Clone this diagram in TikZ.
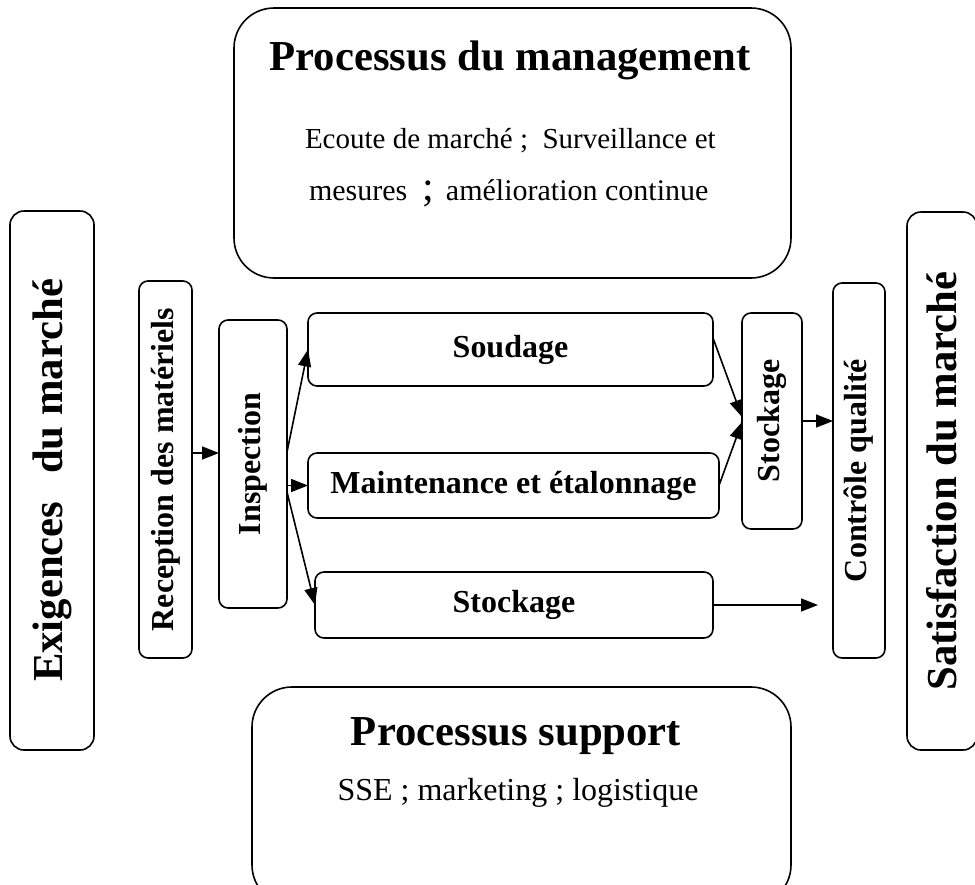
\documentclass[tikz,border=0pt]{standalone}
\usepackage{fontspec}
\setmainfont{Liberation Serif}
\usetikzlibrary{arrows.meta}
\begin{document}
\begin{tikzpicture}[x=1pt,y=-1pt,
  every node/.style={inner sep=0pt, outer sep=0pt},
  box/.style={draw, line width=1.6pt, rounded corners=9pt, font=\fontsize{32}{38}\selectfont\bfseries},
  tallbox/.style={draw, line width=1.6pt, rounded corners=14pt, font=\fontsize{42.7}{48}\selectfont\bfseries},
  bigbox/.style={draw, line width=1.6pt, rounded corners=40pt},
  titletext/.style={font=\fontsize{42.7}{48}\selectfont\bfseries, anchor=base},
  subtext/.style={font=\fontsize{29}{34}\selectfont, anchor=base west},
  supptext/.style={font=\fontsize{32}{38}\selectfont, anchor=base},
  arr/.style={line width=1.6pt, -{Triangle[length=17pt,width=13pt]}}
]
\useasboundingbox (0,0) rectangle (975,884);

% side boxes
\node[tallbox, minimum width=84pt, minimum height=539pt] (exig) at (52,480.5) {\rotatebox{90}{Exigences\hspace{0.65em}du marché}};
\node[tallbox, minimum width=70pt, minimum height=538pt] (satis) at (942,481) {\rotatebox{90}{Satisfaction du marché}};

% process boxes
\node[box, minimum width=53pt, minimum height=377pt] (rec) at (165.5,469.5) {\rotatebox{90}{Reception des matériels}};
\node[box, minimum width=68pt, minimum height=288pt] (insp) at (253,464) {\rotatebox{90}{Inspection}};
\node[box, minimum width=405pt, minimum height=73pt] (soud) at (510.5,349.5) {Soudage};
\node[box, minimum width=411pt, minimum height=65pt] (maint) at (513.5,485.5) {Maintenance et étalonnage};
\node[box, minimum width=398pt, minimum height=66pt] (stock) at (514,605) {Stockage};
\node[box, minimum width=60pt, minimum height=216pt] (stv) at (772,421) {\rotatebox{90}{Stockage}};
\node[box, minimum width=52pt, minimum height=375pt] (ctrl) at (859,470.5) {\rotatebox{90}{Contrôle qualité}};

% management box
\node[bigbox, minimum width=557pt, minimum height=270pt] (mgmt) at (512.5,143) {};
\node[titletext] (mgmtT) at (510,70) {Processus du management};
\node[subtext] (mgmtA) at (305,148) {Ecoute de marché ;\ \ Surveillance et};
\node[subtext] (mgmtB) at (309,200) {\fontsize{30}{34}\selectfont mesures\hspace{0.5em}{\fontsize{42}{42}\selectfont;}\hspace{0.4em}amélioration continue};

% support box
\node[bigbox, minimum width=539pt, minimum height=218pt] (supp) at (521.5,796) {};
\node[titletext] (suppT) at (516,745) {Processus support};
\node[supptext] (suppS) at (518,800) {SSE ; marketing ; logistique};

% connectors
\draw[arr] ([yshift=16.5pt]rec.east) -- ([yshift=11pt]insp.west);
\draw[arr] ([yshift=12pt]insp.east) -- (soud.west);
\draw[arr] (insp.east |- maint.west) -- (maint.west);
\draw[arr] ([yshift=-28pt]insp.east) -- (stock.west);
\draw[arr] ([yshift=11.5pt]soud.east) -- ([yshift=4pt]stv.west);
\draw[arr] (maint.east) -- ([yshift=-1pt]stv.west);
\draw[arr] (stv.east) -- (stv.east -| ctrl.west);
\draw[arr, shorten >=15pt] (stock.east) -- (stock.east -| ctrl.west);
\end{tikzpicture}
\end{document}
